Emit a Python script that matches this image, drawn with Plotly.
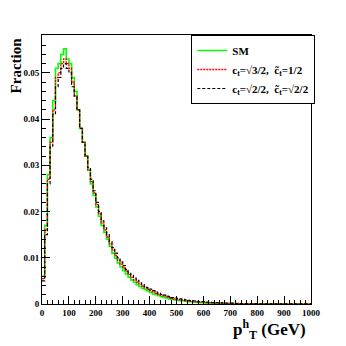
import plotly.graph_objects as go

# bin edges in GeV (10 GeV bins)
bin_edges = list(range(0, 1010, 10))

sm = [0.006, 0.017, 0.028, 0.036, 0.044, 0.051, 0.052, 0.054, 0.0552, 0.053,
      0.052, 0.049, 0.046, 0.042, 0.038, 0.035, 0.032, 0.029, 0.026, 0.0235,
      0.021, 0.019, 0.017, 0.0155, 0.014, 0.0125, 0.011, 0.0099, 0.0089, 0.008,
      0.0072, 0.0065, 0.0058, 0.0052, 0.0047, 0.0042, 0.0038, 0.0034, 0.0031, 0.0028,
      0.0025, 0.0022, 0.0020, 0.0018, 0.0016, 0.0014, 0.0013, 0.0011, 0.0010, 0.0009,
      0.0008, 0.0007, 0.0007, 0.0006, 0.0005, 0.0005, 0.0004, 0.0004, 0.0003, 0.0003,
      0.0003, 0.0002, 0.0002, 0.0002, 0.0002, 0.0001, 0.0001, 0.0001, 0.0001, 0.0001,
      0.0001, 0.0001, 0.00008, 0.00007, 0.00006, 0.00005, 0.00005, 0.00004, 0.00004, 0.00003,
      0.00003, 0.00003, 0.00002, 0.00002, 0.00002, 0.00002, 0.00001, 0.00001, 0.00001, 0.00001,
      0.00001, 0.00001, 0.00001, 0.00001, 0.00001, 0.00001, 0.00001, 0.00001, 0.00001, 0.00001]

mixed_red = [0.0055, 0.016, 0.027, 0.035, 0.042, 0.049, 0.050, 0.052, 0.053, 0.052,
             0.051, 0.048, 0.045, 0.042, 0.038, 0.035, 0.032, 0.029, 0.0265, 0.024,
             0.0215, 0.0195, 0.0175, 0.016, 0.0145, 0.013, 0.0117, 0.0105, 0.0095, 0.0086,
             0.0078, 0.0071, 0.0064, 0.0058, 0.0052, 0.0047, 0.0043, 0.0039, 0.0035, 0.0032,
             0.0029, 0.0026, 0.0023, 0.0021, 0.0019, 0.0017, 0.0015, 0.0014, 0.0012, 0.0011,
             0.0010, 0.0009, 0.0008, 0.0007, 0.0007, 0.0006, 0.0005, 0.0005, 0.0004, 0.0004,
             0.0004, 0.0003, 0.0003, 0.0003, 0.0002, 0.0002, 0.0002, 0.0002, 0.0001, 0.0001,
             0.0001, 0.0001, 0.0001, 0.00009, 0.00008, 0.00007, 0.00006, 0.00005, 0.00005, 0.00004,
             0.00004, 0.00003, 0.00003, 0.00003, 0.00002, 0.00002, 0.00002, 0.00002, 0.00001, 0.00001,
             0.00001, 0.00001, 0.00001, 0.00001, 0.00001, 0.00001, 0.00001, 0.00001, 0.00001, 0.00001]

mixed_black = [0.005, 0.015, 0.026, 0.034, 0.041, 0.047, 0.049, 0.051, 0.052, 0.051,
               0.050, 0.047, 0.045, 0.042, 0.038, 0.035, 0.032, 0.0295, 0.027, 0.0245,
               0.022, 0.020, 0.018, 0.0165, 0.015, 0.0135, 0.0122, 0.011, 0.010, 0.0091,
               0.0083, 0.0075, 0.0068, 0.0062, 0.0056, 0.0051, 0.0046, 0.0042, 0.0038, 0.0035,
               0.0032, 0.0029, 0.0026, 0.0023, 0.0021, 0.0019, 0.0017, 0.0016, 0.0014, 0.0013,
               0.0012, 0.0011, 0.0010, 0.0009, 0.0008, 0.0007, 0.0007, 0.0006, 0.0005, 0.0005,
               0.0005, 0.0004, 0.0004, 0.0003, 0.0003, 0.0003, 0.0003, 0.0002, 0.0002, 0.0002,
               0.0002, 0.0001, 0.0001, 0.0001, 0.0001, 0.0001, 0.00009, 0.00008, 0.00007, 0.00006,
               0.00005, 0.00005, 0.00004, 0.00004, 0.00003, 0.00003, 0.00003, 0.00002, 0.00002, 0.00002,
               0.00002, 0.00001, 0.00001, 0.00001, 0.00001, 0.00001, 0.00001, 0.00001, 0.00001, 0.00001]

labels = ["<b>SM</b>",
          "<b>c<sub>t</sub>=\u221a3/2,  c\u0303<sub>t</sub>=1/2</b>",
          "<b>c<sub>t</sub>=\u221a2/2,  c\u0303<sub>t</sub>=\u221a2/2</b>"]

FONT = "Liberation Serif"

fig = go.Figure()
for vals, name, color, dash, w in [(sm, labels[0], "#00ff00", "solid", 1.6),
                                   (mixed_red, labels[1], "#ff0000", "2px,1px", 1.4),
                                   (mixed_black, labels[2], "#000000", "3px,2px", 1.2)]:
    fig.add_trace(go.Scatter(x=bin_edges, y=vals + [vals[-1]], mode="lines",
                             line=dict(shape="hv", color=color, dash=dash, width=w),
                             name=name))

# the page body has an 8px default margin, so margins are shifted to compensate
fig.update_layout(
    width=346, height=346,
    margin=dict(l=34, r=43, t=27, b=50),
    paper_bgcolor="white", plot_bgcolor="white",
    font=dict(family=FONT, color="black"),
    legend=dict(x=0.555, y=1.0, xanchor="left", yanchor="top",
                bgcolor="white", bordercolor="black", borderwidth=1,
                font=dict(family=FONT, size=11, color="black"),
                itemwidth=30, tracegroupgap=0),
    annotations=[
        dict(text="<b>Fraction</b>", xref="paper", yref="paper",
             x=-0.095, y=1.0, xanchor="center", yanchor="top",
             textangle=-90, showarrow=False, font=dict(size=15)),
        dict(text="<b>p<sup>h</sup><sub>T</sub> (GeV)</b>", xref="paper", yref="paper",
             x=0.99, y=-0.095, xanchor="right", yanchor="middle",
             showarrow=False, font=dict(size=17)),
    ],
)
fig.update_xaxes(range=[0, 1000], showgrid=False, zeroline=False,
                 showline=True, linecolor="black", linewidth=1, mirror=True,
                 ticks="inside", ticklen=8, tickcolor="black", dtick=100, tick0=0,
                 minor=dict(ticks="inside", ticklen=4, dtick=20, tickcolor="black"),
                 tickfont=dict(family=FONT, size=9, weight="bold"))
fig.update_yaxes(range=[0, 0.0582], showgrid=False, zeroline=False,
                 showline=True, linecolor="black", linewidth=1, mirror=True,
                 ticks="inside", ticklen=8, tickcolor="black", dtick=0.01, tick0=0,
                 minor=dict(ticks="inside", ticklen=4, dtick=0.002, tickcolor="black"),
                 tickfont=dict(family=FONT, size=9, weight="bold"))

fig.write_html("out.html")
